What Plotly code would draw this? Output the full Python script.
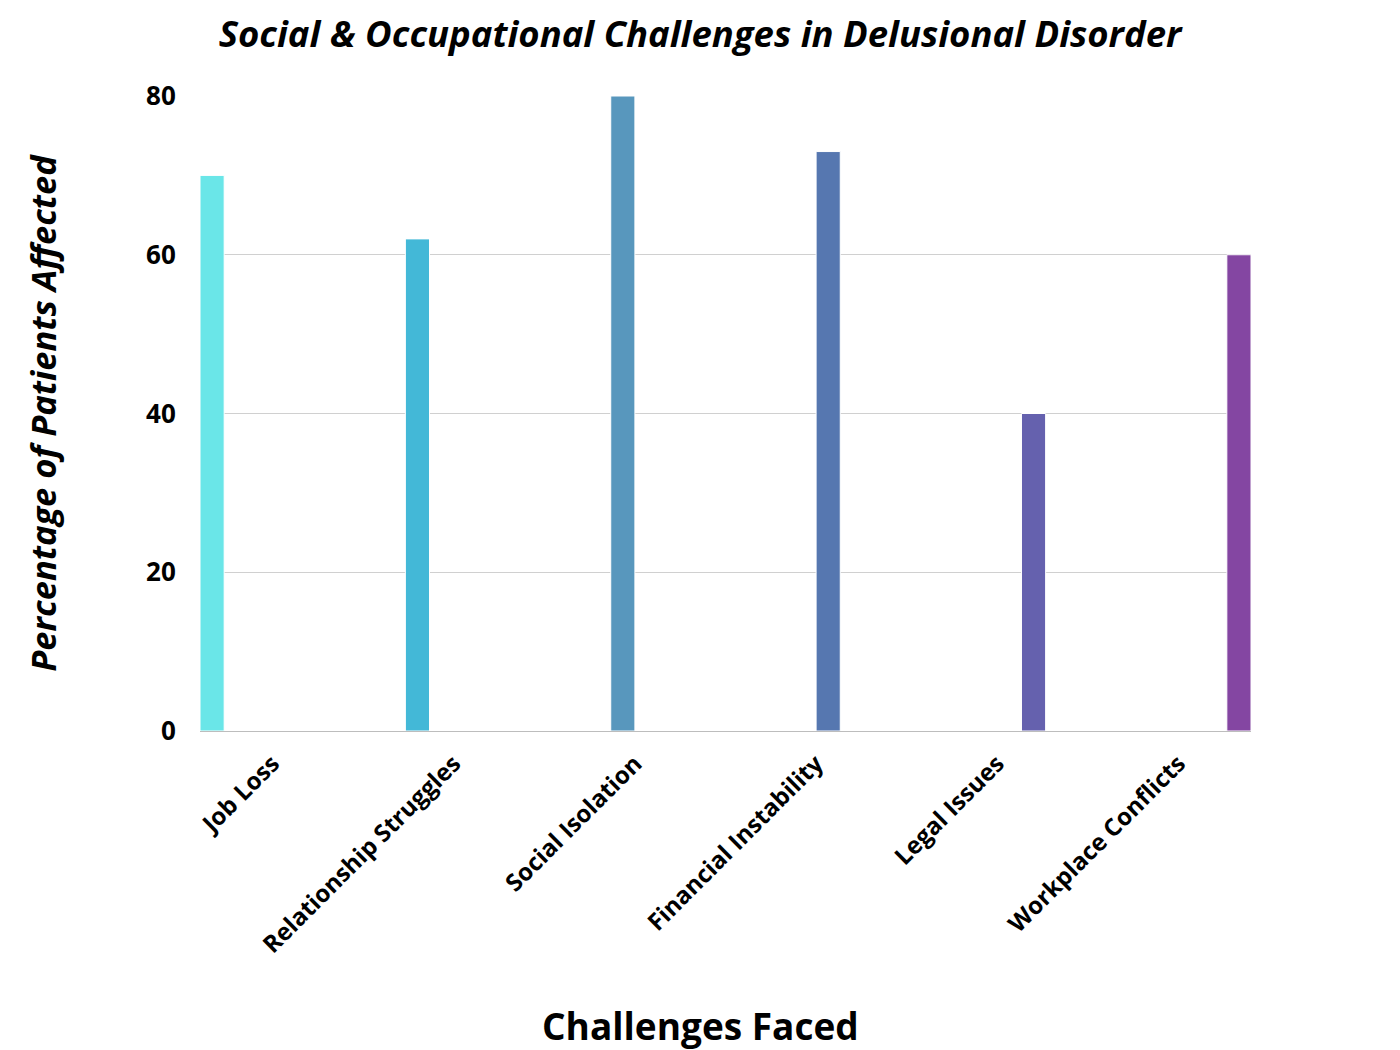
import plotly.graph_objects as go

categories = ["Job Loss", "Relationship Struggles", "Social Isolation",
              "Financial Instability", "Legal Issues", "Workplace Conflicts"]
values = [70, 62, 80, 73, 40, 60]
colors = ["#6ae6e8", "#43b8d7", "#5897bd", "#5677b0", "#6561ae", "#8446a2"]

fig = go.Figure()
for i, (cat, val, col) in enumerate(zip(categories, values, colors)):
    fig.add_trace(go.Bar(
        x=[cat], y=[val], name=cat, offsetgroup=str(i),
        marker=dict(color=col, line=dict(color="white", width=1)),
    ))

fig.update_layout(
    width=1400, height=1050,
    barmode="group", bargap=0.2, bargroupgap=0,
    showlegend=False,
    plot_bgcolor="white", paper_bgcolor="white",
    margin=dict(l=200, r=149, t=96, b=319),
    title=dict(
        text="<b><i>Social & Occupational Challenges in Delusional Disorder</i></b>",
        x=0.5, xanchor="center", y=0.967, yanchor="middle",
        font=dict(family="Open Sans", size=36.5, color="black"),
    ),
    font=dict(family="Open Sans", color="black"),
    annotations=[dict(
        text="<b>Challenges Faced</b>", xref="paper", yref="paper",
        x=(700 - 200) / 1051, y=(731 - 1025) / 635,
        xanchor="center", yanchor="middle", showarrow=False,
        font=dict(family="Open Sans", size=37, color="black"),
    )],
)

fig.update_xaxes(
    type="category",
    range=[-0.4, 5.4],
    tickangle=-45,
    tickfont=dict(family="Open Sans", size=24, color="black", weight="bold"),
    showline=True, linecolor="#bdbdbd", linewidth=1,
    showgrid=False,
    ticks="outside", ticklen=8, tickcolor="white",
)

fig.update_yaxes(
    range=[0, 80],
    tickvals=[0, 20, 40, 60, 80],
    tickfont=dict(family="Open Sans", size=26, color="black", weight="bold"),
    showgrid=True, gridcolor="#d0d0d0", gridwidth=1,
    zeroline=False,
    ticks="outside", ticklen=18, tickcolor="white",
    title=dict(text="<b><i>Percentage of Patients Affected</i></b>",
               font=dict(family="Open Sans", size=34.5, color="black"),
               standoff=78),
)

fig.write_html("out.html")
